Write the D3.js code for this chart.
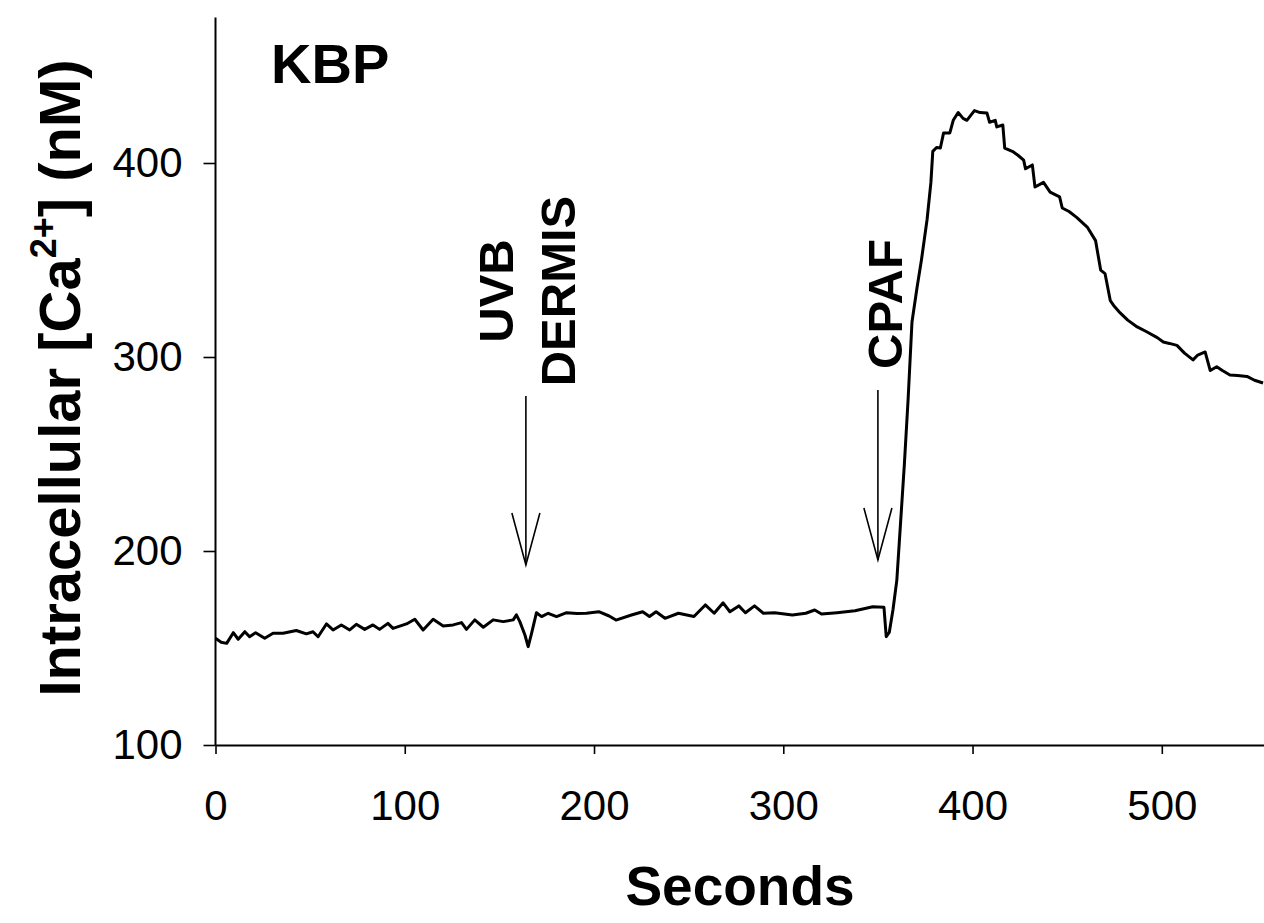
<!DOCTYPE html>
<html>
<head>
<meta charset="utf-8">
<script src="https://cdn.jsdelivr.net/npm/d3@7"></script>
<style>
  html, body { margin: 0; padding: 0; background: #fff; }
  svg { display: block; font-family: 'Liberation Sans', Arial, sans-serif; }
</style>
</head>
<body>
<svg id="chart" width="1264" height="923"></svg>
<script>
// Ca2+ trace (seconds, nM)
const seconds = [0,3,5.9,9.4,12,15.5,18,21.2,26,30.4,35.7,42.7,48,51.5,54.2,58.6,62.1,66.5,70.9,74.4,78.8,83.2,86.7,91.1,93.8,100.9,105.3,109.7,115,120.3,125.6,130,132.6,137,141.5,146.7,152,157.3,159,160.8,163.5,165.2,167,169.6,172.3,175.8,180.2,185.5,191,196,202.5,208,211.6,219.8,225.7,229.3,232.8,237.5,244.6,252.8,258.8,263.5,268.2,271.8,276.5,280,284.8,289.5,295.4,304.8,311.9,316.6,320.2,328.4,337.9,347.3,353.2,354.4,356,358,360,362,364,366,368,370.7,373,376,378,379,381,383,384.7,388,389.8,392.4,395,397,401,404,407.6,409,412,412.8,416,417,421.6,424,427,428,431.6,433,437.5,441,446,447.4,451,455,460.6,465,467.7,470,472.8,475,478,482,487,492,497.6,500.8,504,508,512,516.5,519,522.9,525.6,529,532,536,540,545,549,553.5];
const calcium = [155,153,152.4,157.9,154.5,158.4,155.8,157.9,155,157.6,157.6,159,157.3,158.4,155.8,162.4,159.3,161.9,159.3,162.2,159.6,161.9,159.6,162.7,160.1,162.4,164.8,159.3,164.8,161.4,161.9,163.1,159.6,164.5,160.7,164.5,163.6,164.5,167.1,163.6,156.7,150.7,157.6,168.2,166.2,167.9,166.2,168.2,167.8,167.9,168.7,166.5,164.4,167,168.7,166.2,168.7,165.3,167.9,166.2,172.2,167.9,173.3,168.7,171.7,168.2,171.7,167.9,168.2,167,167.9,169.6,167.5,168.2,169.2,171.3,171,155.8,158,170,185,215,245,279,318,336,350,371,390,406,408,407.7,415.5,415.5,422,426,423,422,427,426,425.8,421,422,418.6,419.6,407.7,405.7,404,401.5,397,399,387.6,390,385,382.5,376.8,375,372,367,360,344.8,343,329,326,322.7,319,315.5,313,310,307.7,307,306,302,298.5,301,302.6,293,295,293,290.7,290.5,290,288,286.6];

const xTicks = [0,100,200,300,400,500];
const yTicks = [100,200,300,400];

// stimulus markers: time, label lines
const markerTimes = [164, 350];
const markerLabels = [['UVB','DERMIS'], ['CPAF']];

document.addEventListener('DOMContentLoaded', function() {
    const svg = d3.select('#chart');

    const x = d3.scaleLinear().domain([0, 554]).range([215.5, 1264]);
    const y = d3.scaleLinear().domain([100, 475]).range([745, 17.5]);

    // axes
    const xAxis = d3.axisBottom(x).tickValues(xTicks).tickSize(9).tickSizeOuter(0).tickPadding(36);
    const yAxis = d3.axisLeft(y).tickValues(yTicks).tickSize(12).tickSizeOuter(0).tickPadding(21);

    const gx = svg.append('g').attr('transform', `translate(0, ${y(100)})`).call(xAxis);
    const gy = svg.append('g').attr('transform', `translate(${x(0)}, 0)`).call(yAxis);

    [gx, gy].forEach(g => {
        g.select('.domain').attr('stroke', '#000').attr('stroke-width', 2);
        g.selectAll('.tick line').attr('stroke', '#000').attr('stroke-width', 1.6);
        g.selectAll('.tick text').attr('fill', '#000').style('font-size', '42px').style('font-family', "'Liberation Sans', Arial, sans-serif");
    });
    // y axis runs to the top of the frame
    gy.select('.domain').attr('d', `M0,${y(100)}V${y(475)}`);

    // trace
    const data = seconds.map((t, i) => ({ t, v: calcium[i] }));
    const line = d3.line().x(d => x(d.t)).y(d => y(d.v));
    svg.append('path').datum(data)
        .attr('d', line)
        .attr('fill', 'none')
        .attr('stroke', '#000')
        .attr('stroke-width', 3)
        .attr('stroke-linejoin', 'round');

    // arrows for stimuli
    const arrowTop = [396, 390];
    const arrowTip = [565, 560];
    markerTimes.forEach((t, i) => {
        const ax = x(t);
        const g = svg.append('g').attr('stroke', '#000').attr('stroke-width', 1.6).attr('fill', 'none');
        g.append('line').attr('x1', ax).attr('x2', ax).attr('y1', arrowTop[i]).attr('y2', arrowTip[i]);
        g.append('path').attr('d', `M${ax - 14},${arrowTip[i] - 52}L${ax},${arrowTip[i]}L${ax + 14},${arrowTip[i] - 52}`);
    });

    // rotated stimulus labels
    const labelPos = [[513, 575], [902]];
    const labelMid = [291, 304];
    markerLabels.forEach((lines, i) => {
        lines.forEach((txt, j) => {
            svg.append('text')
                .attr('transform', `translate(${labelPos[i][j]}, ${labelMid[i]}) rotate(-90)`)
                .attr('text-anchor', 'middle')
                .style('font-size', '49px')
                .style('font-weight', 'bold')
                .text(txt);
        });
    });

    // panel tag
    svg.append('text').attr('x', 271).attr('y', 83)
        .style('font-size', '56px').style('font-weight', 'bold').text('KBP');

    // axis titles
    svg.append('text').attr('x', 740).attr('y', 905).attr('text-anchor', 'middle')
        .style('font-size', '55px').style('font-weight', 'bold').text('Seconds');

    const yTitle = svg.append('text')
        .attr('transform', 'translate(80, 378) rotate(-90)')
        .attr('text-anchor', 'middle')
        .style('font-size', '58px').style('font-weight', 'bold');
    yTitle.append('tspan').text('Intracellular [Ca');
    yTitle.append('tspan').attr('dy', -24).style('font-size', '36px').text('2+');
    yTitle.append('tspan').attr('dy', 24).text('] (nM)');
});
</script>
</body>
</html>
